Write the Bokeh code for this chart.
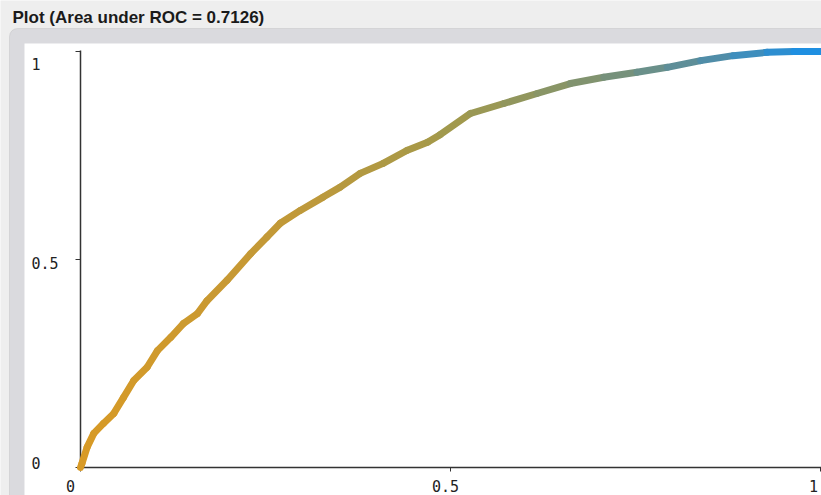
import numpy as np
from bokeh.plotting import figure
from bokeh.models import BoxAnnotation, ColumnDataSource
from bokeh.core.properties import value
from bokeh.embed import file_html
from bokeh.resources import INLINE

# ---------------- data ----------------
title_text = "Plot (Area under ROC = 0.7126)"
fpr = [0.0, 0.002, 0.009, 0.018, 0.031, 0.045, 0.058, 0.072, 0.090, 0.104, 0.122,
       0.139, 0.158, 0.171, 0.198, 0.230, 0.252, 0.270, 0.297, 0.328, 0.351, 0.378,
       0.409, 0.441, 0.469, 0.486, 0.527, 0.572, 0.617, 0.662, 0.707, 0.752, 0.793,
       0.838, 0.882, 0.928, 0.964, 1.0]
tpr = [0.0, 0.010, 0.049, 0.082, 0.106, 0.130, 0.168, 0.209, 0.241, 0.281, 0.313,
       0.346, 0.370, 0.401, 0.450, 0.514, 0.554, 0.587, 0.618, 0.650, 0.674, 0.707,
       0.731, 0.762, 0.782, 0.800, 0.851, 0.875, 0.899, 0.923, 0.938, 0.950, 0.962,
       0.978, 0.990, 0.998, 1.0, 1.0]
tick_values = [0, 0.5, 1]
tick_labels = ["0", "0.5", "1"]

# ---------------- layout helpers (pixel -> data) ----------------
W, H = 821, 495
X0, Y0, SX, SY = 80.0, 467.0, 740.0, 416.0
def X(px):
    return (px - X0) / SX
def Y(py):
    return (Y0 - py) / SY

p = figure(width=W, height=H, x_range=(X(0), X(W)), y_range=(Y(H), Y(0)),
           x_axis_location=None, y_axis_location=None, toolbar_location=None,
           output_backend="svg", min_border=0)
p.grid.visible = False
p.outline_line_color = None
p.background_fill_color = "#eeeeee"
p.border_fill_color = "#eeeeee"

# panel frame and white plotting area
p.add_layout(BoxAnnotation(left=X(9), right=X(860), top=Y(28), bottom=Y(540),
                           fill_color="#dadade", fill_alpha=1, line_color="#b0b0b4",
                           line_width=1, border_radius=8, level="underlay"))
p.add_layout(BoxAnnotation(left=X(24), right=X(860), top=Y(43), bottom=Y(540),
                           fill_color="#ffffff", fill_alpha=1, line_color=None,
                           level="underlay"))

# title
p.text(x=[X(12)], y=[Y(17)], text=[title_text], text_font=value("Liberation Sans"),
       text_font_style="bold", text_font_size="17px", text_color="#1a1a1a",
       text_baseline="middle", text_align="left")

# axes
axis_color = "#333333"
p.segment(x0=[0, 0], y0=[0, 0], x1=[0, X(W)], y1=[Y(50), 0],
          line_color=axis_color, line_width=1.5)
tv = np.array(tick_values, dtype=float)
p.segment(x0=tv, y0=np.zeros_like(tv), x1=tv, y1=np.full_like(tv, Y(471)),
          line_color=axis_color, line_width=1)
p.segment(x0=np.zeros_like(tv), y0=tv, x1=np.full_like(tv, X(75)), y1=tv,
          line_color=axis_color, line_width=1)

# tick labels (Weka-like placement offsets, screen pixels)
x_label_dx = [-10, -5, -7]
y_label_dy = [-5, 3, 12]
xl = ColumnDataSource(dict(x=tv, y=np.full_like(tv, Y(485)), t=tick_labels, dx=x_label_dx))
yl = ColumnDataSource(dict(x=np.full_like(tv, X(31)), y=tv, t=tick_labels, dy=y_label_dy))
p.text(x="x", y="y", text="t", x_offset="dx", source=xl,
       text_font=value("DejaVu Sans Mono"), text_font_size="15px", text_color="#222222",
       text_align="center", text_baseline="middle")
p.text(x="x", y="y", text="t", y_offset="dy", source=yl,
       text_font=value("DejaVu Sans Mono"), text_font_size="15px", text_color="#222222",
       text_align="left", text_baseline="middle")

# curve coloured from orange to blue along the curve
anchors_pos = [0.0, 0.3, 0.5, 0.7, 0.85, 1.0]
anchors_col = ["#d99b26", "#c0993a", "#a39a4c", "#7f9372", "#558da4", "#1890ea"]
def hex2rgb(h):
    return [int(h[i:i + 2], 16) for i in (1, 3, 5)]
rgb = np.array([hex2rgb(c) for c in anchors_col], dtype=float)
fx = np.array(fpr)
fy = np.array(tpr)
mid = (fx[:-1] + fx[1:]) / 2
cols = []
for m in mid:
    r, g, b = (np.interp(m, anchors_pos, rgb[:, k]) for k in range(3))
    cols.append("#%02x%02x%02x" % (int(r), int(g), int(b)))
src = ColumnDataSource(dict(x0=fx[:-1], y0=fy[:-1], x1=fx[1:], y1=fy[1:], c=cols))
p.segment(x0="x0", y0="y0", x1="x1", y1="y1", line_color="c", line_width=7,
          line_cap="round", source=src)

open("out.html", "w").write(file_html(p, INLINE))
